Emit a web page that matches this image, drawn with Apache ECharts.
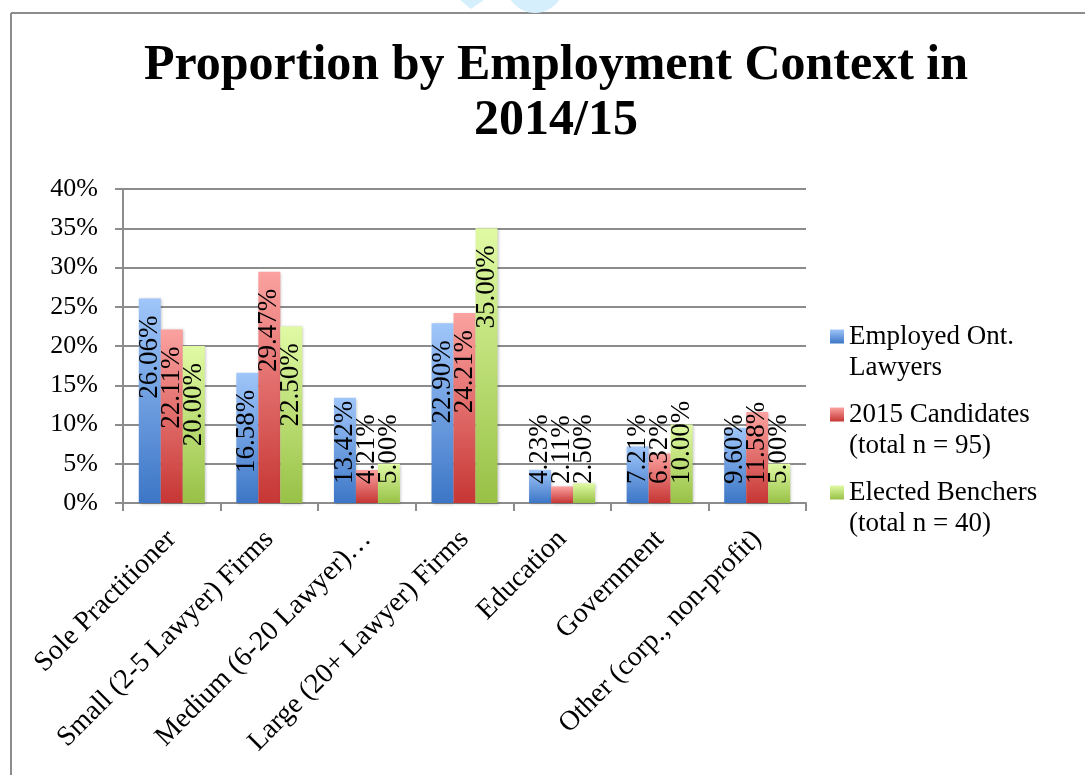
<!DOCTYPE html>
<html>
<head>
<meta charset="utf-8">
<title>Proportion by Employment Context in 2014/15</title>
<script src="https://cdn.jsdelivr.net/npm/echarts@6/dist/echarts.min.js"></script>
<style>
  html, body { margin: 0; padding: 0; background: #fff; }
  #chart { width: 1085px; height: 775px; }
</style>
</head>
<body>
<div id="chart"></div>
<script>
// categories on the x axis
const categories = [
  "Sole Practitioner",
  "Small (2-5 Lawyer) Firms",
  "Medium (6-20 Lawyer)…",
  "Large (20+ Lawyer) Firms",
  "Education",
  "Government",
  "Other (corp., non-profit)"
];

// series values, in percent
const employedLawyers = [26.06, 16.58, 13.42, 22.90, 4.23, 7.21, 9.60];
const candidates2015 = [22.11, 29.47, 4.21, 24.21, 2.11, 6.32, 11.58];
const electedBenchers = [20.00, 22.50, 5.00, 35.00, 2.50, 10.00, 5.00];

const seriesNames = [
  "Employed Ont.\nLawyers",
  "2015 Candidates\n(total n = 95)",
  "Elected Benchers\n(total n = 40)"
];

const serif = "Liberation Serif";

const gradient = (top, bottom) => ({
  type: "linear", x: 0, y: 0, x2: 0, y2: 1,
  colorStops: [{ offset: 0, color: top }, { offset: 1, color: bottom }]
});

// tall bars carry the label just inside their top, short ones start it near the axis
const withLabels = (values) => values.map(v => ({
  value: v,
  label: v >= 15
    ? { position: "insideTop", distance: 17, align: "right" }
    : { position: "insideBottom", distance: 19, align: "left" }
}));

const makeSeries = (name, values, top, bottom) => ({
  name: name,
  type: "bar",
  barWidth: 22,
  barGap: "0%",
  data: withLabels(values),
  itemStyle: {
    color: gradient(top, bottom),
    shadowColor: "rgba(0,0,0,0.25)",
    shadowBlur: 3,
    shadowOffsetX: 1,
    shadowOffsetY: 1
  },
  label: {
    show: true,
    rotate: 90,
    verticalAlign: "middle",
    fontFamily: serif,
    fontSize: 27,
    color: "#000",
    formatter: p => p.value.toFixed(2) + "%"
  }
});

const chart = echarts.init(document.getElementById("chart"));

const option = {
  backgroundColor: "#fff",
  animation: false,
  title: {
    text: "Proportion by Employment Context in\n2014/15",
    left: 556,
    textAlign: "center",
    top: 39,
    padding: 0,
    textStyle: {
      fontFamily: serif,
      fontWeight: "bold",
      fontSize: 50,
      lineHeight: 55,
      color: "#000"
    }
  },
  legend: {
    orient: "vertical",
    left: 825,
    top: 285,
    itemWidth: 14,
    itemHeight: 14,
    itemGap: -15,
    icon: "rect",
    data: seriesNames,
    // a blank first line keeps the marker beside the first line of each name
    formatter: name => "\n" + name,
    textStyle: {
      fontFamily: serif,
      fontSize: 27,
      lineHeight: 31,
      color: "#000"
    }
  },
  grid: {
    left: 123,
    right: 279,
    top: 189,
    bottom: 272,
    containLabel: false
  },
  xAxis: {
    type: "category",
    data: categories,
    axisLine: { lineStyle: { color: "#8c8c8c", width: 2 } },
    axisTick: { show: true, length: 8, lineStyle: { color: "#8c8c8c", width: 2 } },
    axisLabel: {
      interval: 0,
      rotate: 45,
      margin: 32,
      fontFamily: serif,
      fontSize: 28,
      color: "#000"
    }
  },
  yAxis: {
    type: "value",
    min: 0,
    max: 40,
    interval: 5,
    axisLine: { show: true, lineStyle: { color: "#8c8c8c", width: 2 } },
    axisTick: { show: true, length: 8, lineStyle: { color: "#8c8c8c", width: 2 } },
    splitLine: { lineStyle: { color: "#8c8c8c", width: 2 } },
    axisLabel: {
      formatter: "{value}%",
      margin: 25,
      fontFamily: serif,
      fontSize: 26,
      color: "#000"
    }
  },
  series: [
    makeSeries(seriesNames[0], employedLawyers, "#a0c6fa", "#3c76c6"),
    makeSeries(seriesNames[1], candidates2015, "#fba2a0", "#c63634"),
    makeSeries(seriesNames[2], electedBenchers, "#e0faa4", "#98c146")
  ],
  graphic: [
    // frame of the pasted chart
    { type: "line", shape: { x1: 11, y1: 13, x2: 1085, y2: 13 }, style: { stroke: "#8c8c8c", lineWidth: 2 } },
    { type: "line", shape: { x1: 11, y1: 13, x2: 11, y2: 775 }, style: { stroke: "#8c8c8c", lineWidth: 2 } },
    // faint watermark fragments above the frame
    { type: "polygon", shape: { points: [[460, 0], [484, 0], [471, 9]] }, style: { fill: "#d6effc" } },
    { type: "sector", shape: { cx: 535, cy: -16, r0: 0, r: 29, startAngle: 0, endAngle: Math.PI }, style: { fill: "#d6effc" } }
  ]
};

chart.setOption(option);
</script>
</body>
</html>
